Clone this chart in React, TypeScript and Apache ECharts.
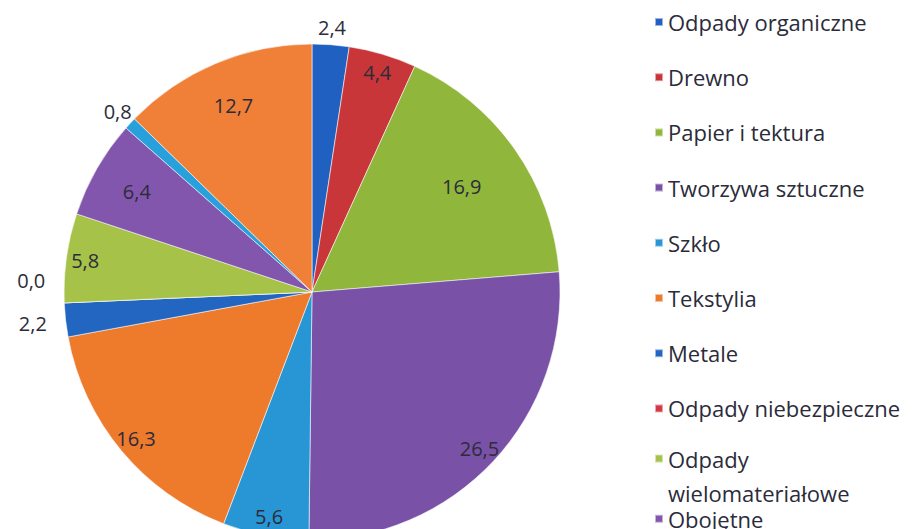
import React, { useEffect, useRef } from "react";
import * as echarts from "echarts";

// ---- data ----
const categories = [
  "Odpady organiczne",
  "Drewno",
  "Papier i tektura",
  "Tworzywa sztuczne",
  "Szkło",
  "Tekstylia",
  "Metale",
  "Odpady niebezpieczne",
  "Odpady wielomateriałowe",
  "Obojętne",
  "Inne",
  "Frakcja drobna",
];
const values = [2.4, 4.4, 16.9, 26.5, 5.6, 16.3, 2.2, 0.0, 5.8, 6.4, 0.8, 12.7];

// ---- styling ----
const colors = [
  "#2060C0",
  "#C93639",
  "#90B63C",
  "#7952A8",
  "#2896D5",
  "#EE7A2C",
  "#2266C2",
  "#D23848",
  "#A6C248",
  "#8356AE",
  "#28A0DC",
  "#F08038",
];
// which label ring each slice's label sits on
const labelRing = ["near", "mid", "deep", "mid", "mid", "mid", "far", "zero", "mid", "inner", "near", "inner"];
const R = 248;
const CENTER = [312, 292];
const rings: Record<string, [number, number]> = {
  deep: [112, R],
  inner: [150, R],
  mid: [204, R],
  near: [R, R + 28],
  far: [R, R + 60],
  zero: [R, R + 60],
};
// blank trailing lines used to lift a label upward
const liftLines: Record<string, number> = { zero: 2 };

const fmt = (v: number) => v.toFixed(1).replace(".", ",");

export default function App() {
  const ref = useRef<HTMLDivElement>(null);
  useEffect(() => {
    if (!ref.current) return;
    const chart = echarts.init(ref.current, undefined, { renderer: "svg" });

    const mainSeries = {
      type: "pie",
      center: CENTER,
      radius: R,
      startAngle: 90,
      clockwise: true,
      silent: true,
      label: { show: false },
      labelLine: { show: false },
      itemStyle: { borderColor: "rgba(255,255,255,0.55)", borderWidth: 1 },
      data: categories.map((name, i) => ({
        name,
        value: values[i],
        itemStyle: { color: colors[i] },
      })),
    };

    const labelSeries = Object.keys(rings).map((key) => ({
      type: "pie",
      center: CENTER,
      radius: rings[key],
      startAngle: 90,
      clockwise: true,
      silent: true,
      avoidLabelOverlap: false,
      minShowLabelAngle: -1,
      labelLayout: { hideOverlap: false },
      legendHoverLink: false,
      emphasis: { disabled: true },
      labelLine: { show: false },
      itemStyle: { color: "rgba(0,0,0,0)", borderWidth: 0 },
      label: {
        position: "inside",
        fontFamily: "Open Sans",
        fontSize: 20,
        lineHeight: 24,
        color: "#2c2c3a",
        formatter: (p: any) => fmt(p.value) + "\n ".repeat(liftLines[key] || 0),
      },
      data: categories.map((name, i) => ({
        name,
        value: values[i],
        label: { show: labelRing[i] === key },
      })),
    }));

    const legendCenter = (i: number) => 22 + 55.2 * i;
    const legends = categories.map((name, i) => {
      const multi = i === 8;
      const lh = multi ? 34 : 24;
      return {
        orient: "vertical",
        left: 654,
        top: multi ? legendCenter(i) - 1.5 * lh - 5 : legendCenter(i) - lh / 2,
        padding: 0,
        itemGap: 0,
        icon: "rect",
        itemWidth: 8,
        itemHeight: 8,
        selectedMode: false,
        data: [name],
        formatter: multi ? () => " \nOdpady\nwielomateriałowe" : undefined,
        textStyle: {
          fontFamily: "Open Sans",
          fontSize: 22,
          lineHeight: lh,
          color: "#2b2b3a",
        },
      };
    });

    chart.setOption({
      animation: false,
      backgroundColor: "#ffffff",
      legend: legends,
      series: [mainSeries, ...labelSeries],
    });
    return () => chart.dispose();
  }, []);
  return (
    <div
      ref={ref}
      style={{ position: "absolute", left: 0, top: 0, width: 912, height: 529 }}
    />
  );
}
